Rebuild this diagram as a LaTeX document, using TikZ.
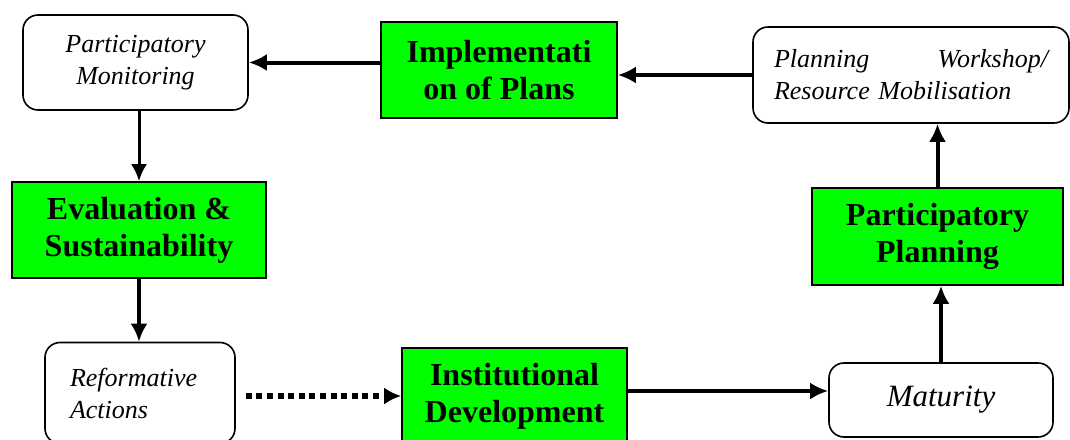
\documentclass[tikz,border=0pt]{standalone}
\usepackage{fontspec}
\setmainfont{Liberation Serif}
\usetikzlibrary{arrows.meta}
\definecolor{boxgreen}{RGB}{0,255,0}
\begin{document}
\begin{tikzpicture}[x=1pt,y=-1pt,
  greenbox/.style={draw=black, line width=1.6pt, fill=boxgreen, inner sep=0pt, align=center,
    font=\fontsize{32}{37}\selectfont\bfseries},
  softbox/.style={draw=black, line width=1.6pt, rounded corners=15pt, inner sep=0pt,
    font=\fontsize{26}{32}\selectfont\itshape},
  arr/.style={line width=4pt, -{Latex[length=18pt,width=17pt]}},
  thinarr/.style={line width=3pt, -{Latex[length=17pt,width=16pt]}},
  dotarr/.style={line width=5.5pt, dash pattern=on 6pt off 4.6pt, -{Latex[length=17pt,width=17pt]}}
]
\useasboundingbox (0,0) rectangle (1070,439);
\fill[white] (0,0) rectangle (1070,439);

\node[softbox, minimum width=225pt, minimum height=95pt, align=center] (mon) at (135.5,62.5)
  {Participatory\\Monitoring};
\node[greenbox, minimum width=236pt, minimum height=96pt] (impl) at (499,70)
  {Implementati\\on of Plans};
\node[softbox, minimum width=316pt, minimum height=96pt, text width=274pt, align=left] (pw) at (911,75)
  {Planning\hfill Workshop/\\Resource Mobilisation};
\node[greenbox, minimum width=254pt, minimum height=96pt] (eval) at (139,230)
  {Evaluation \&\\Sustainability};
\node[greenbox, minimum width=251pt, minimum height=97pt] (pp) at (937.5,236.5)
  {Participatory\\Planning};
\node[softbox, minimum width=190pt, minimum height=101pt, text width=140pt, align=left] (ref) at (140,393)
  {Reformative\\Actions};
\node[greenbox, minimum width=225pt, minimum height=96pt] (inst) at (514.5,396)
  {Institutional\\Development};
\node[softbox, minimum width=224pt, minimum height=74pt, font=\fontsize{31}{36}\selectfont\itshape] (mat) at (941,400)
  {Maturity};

\draw[arr] (impl.west |- mon.east) -- (mon.east);
\draw[arr] (pw.west) -- (impl.east |- pw.west);
\draw[thinarr] (eval.north |- mon.south) -- (eval.north);
\draw[arr] (eval.south) -- (eval.south |- ref.north);
\draw[dotarr] ([xshift=10pt]ref.east |- inst.west) -- (inst.west);
\draw[arr] ([yshift=5pt]inst.east) -- ([yshift=5pt]inst.east -| mat.west);
\draw[arr] (mat.north) -- (mat.north |- pp.south);
\draw[arr] (pp.north) -- (pp.north |- pw.south);
\end{tikzpicture}
\end{document}
